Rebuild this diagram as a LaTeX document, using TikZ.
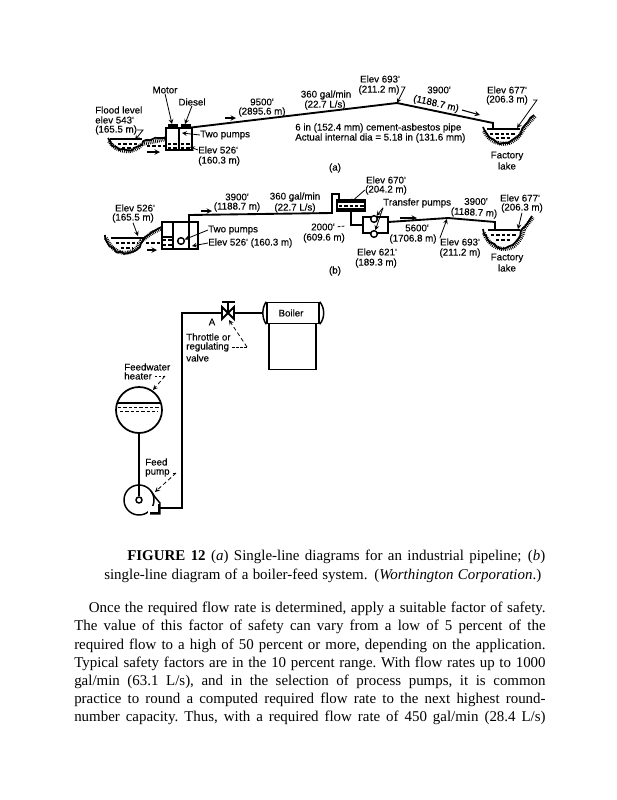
\documentclass[tikz,border=0pt]{standalone}
\usepackage{fontspec}
\setmainfont{Liberation Serif}
\newfontfamily\figfont[FakeBold=0.2]{Liberation Sans}
\usetikzlibrary{decorations.pathmorphing}
\begin{document}
\begin{tikzpicture}[
  x=0.75pt, y=-0.75pt,
  lbl/.style={inner sep=0pt, font=\figfont\fontsize{7.3pt}{8pt}\selectfont},
  lblw/.style={lbl, anchor=west},
  pipe/.style={line width=1.4pt},
  fatpipe/.style={line width=2.2pt},
  box/.style={line width=1.1pt},
  lead/.style={->, >=stealth, line width=0.6pt},
  flowarr/.style={->, >=stealth, line width=0.8pt},
  dashlead/.style={line width=0.6pt, dash pattern=on 2pt off 1pt, shorten <=2pt},
  waterline/.style={line width=2pt},
  ripple/.style={line width=1pt, dash pattern=on 2.5pt off 1.5pt},
  soil/.style={line width=1.3pt, decorate, decoration={random steps, segment length=3pt, amplitude=0.8pt}},
  hatch/.style={line width=3pt, dash pattern=on 0.6pt off 0.8pt},
  captxt/.style={inner sep=0pt, font=\fontsize{11.2pt}{13.6pt}\selectfont},
]
\useasboundingbox (0,0) rectangle (617,800);

% (a) pipeline: pump house
\coordinate (astart) at (187,128);
\coordinate (apeak)  at (397,103);
\coordinate (aend)   at (493,123);
\coordinate (aoutfl) at (493,128);
\node[draw, box, minimum width=19.5pt, minimum height=16.5pt, inner sep=0pt] (ahouse) at (179,139) {};
\draw[box] (179,128) -- (179,150);
\draw[fill=black] (168,124) rectangle (177,128);
\draw[fill=black] (181,124) rectangle (190,128);
\draw[ripple, line width=1.6pt] (168,144) -- (178,144);
\draw[ripple, line width=1.6pt] (168,148) -- (178,148);
\draw[ripple, line width=1.6pt] (181,144) -- (191,144);
\draw[ripple, line width=1.6pt] (181,148) -- (191,148);
\draw[pipe] (astart) -- (apeak) -- (aend) -- (aoutfl);

% (a) flood lake
\draw[soil] (108,138) .. controls (114,152) and (136,154) .. (143,141) -- (166,137);
\draw[hatch] (109,141) .. controls (116,153) and (134,155) .. (142,144) -- (166,139);
\draw[waterline] (110,139) -- (142,139);
\draw[ripple] (118,144) -- (138,144);
\draw[ripple] (122,148) -- (134,148);
\draw[ripple] (147,146) -- (166,146);
\coordinate (aflowa) at (147,152);
\coordinate (aflowb) at (160,152);
\draw[flowarr] (aflowa) -- (aflowb);

% (a) factory lake
\draw[soil] (483,127) .. controls (490,146) and (514,150) .. (522,128) -- (534,115);
\draw[hatch] (484,131) .. controls (492,147) and (514,150) .. (524,128) -- (535,116);
\draw[waterline] (487,129) -- (520,129);
\draw[ripple] (490,134) -- (516,134);
\draw[ripple] (496,138) -- (510,138);

% (a) labels
\node[lbl] (motor) at (165,90) {Motor};
\node[lbl] (diesel) at (192,102) {Diesel};
\node[lblw] (flooda) at (95,110) {Flood level};
\node[lblw] (floodb) at (95,120) {elev 543'};
\node[lblw] (floodc) at (95,130) {(165.5 m)};
\node[lblw] (twoa) at (200,135) {Two pumps};
\node[lblw] (elvaa) at (198,150) {Elev 526'};
\node[lblw] (elvab) at (198,161) {(160.3 m)};
\node[lbl] (lena) at (262,102) {9500'};
\node[lbl] (lenb) at (262,112) {(2895.6 m)};
\node[lbl] (rata) at (326,95) {360 gal/min};
\node[lbl] (ratb) at (325,105) {(22.7 L/s)};
\node[lbl] (topa) at (380,79) {Elev 693'};
\node[lbl] (topb) at (379,90) {(211.2 m)};
\node[lbl] (dwna) at (439,90) {3900'};
\node[lbl, rotate=-13] (dwnb) at (436,104) {(1188.7 m)};
\node[lbl] (endela) at (507,90) {Elev 677'};
\node[lbl] (endelb) at (507,100) {(206.3 m)};
\node[lblw] (pipea) at (295,128) {6 in (152.4 mm) cement-asbestos pipe};
\node[lblw] (pipeb) at (295,138) {Actual internal dia = 5.18 in (131.6 mm)};
\node[lbl] (facta) at (507,156) {Factory};
\node[lbl] (factb) at (507,166) {lake};
\node[lbl] (capa) at (335,168) {(a)};

% (a) leaders
\coordinate (hkflood) at (137,130);
\coordinate (hktop) at (401,87);
\coordinate (hkend) at (533,100);
\draw[lead] (motor.south) -- (172,124);
\draw[lead] (diesel.south) -- (185,124);
\draw[lead] (hkflood) -- (143,130) -- (135,140);
\draw[lead] (twoa.west) -- (182,133);
\draw[lead] (elvaa.west) -- (190,147);
\draw[lead] (hktop) -- (405,87) -- (397,103);
\draw[lead] (hkend) -- (537,100) -- (517,128);
\coordinate (aflowc) at (225,118);
\coordinate (aflowd) at (236,118);
\coordinate (aflowe) at (462,110);
\coordinate (aflowf) at (480,115);
\draw[flowarr] (aflowc) -- (aflowd);
\draw[flowarr] (aflowe) -- (aflowf);

% (b) pump house and first lift
\node[draw, box, minimum width=27pt, minimum height=20pt, inner sep=0pt] (bhouse) at (180,235.5) {};
\draw[box] (173,222) -- (173,249);
\draw[box] (162,237) -- (173,237);
\draw[ripple, line width=1.6pt] (163,240) -- (172,240);
\draw[ripple, line width=1.6pt] (163,245) -- (172,245);
\node[draw, circle, box, inner sep=0pt, minimum size=5pt, fill=white] (bpump) at (181,241) {};
\coordinate (bup) at (189,215);
\coordinate (brise) at (332,213);
\coordinate (briseb) at (332,194);
\coordinate (brisec) at (339,194);
\coordinate (brised) at (339,201);
\draw[pipe] (189,249) -- (bup) -- (brise) -- (briseb) -- (brisec) -- (brised);

% (b) tank and transfer pumps
\node[draw, box, minimum width=21pt, minimum height=8pt, inner sep=0pt] (btank) at (351,205.5) {};
\draw[waterline] (337,202) -- (365,202);
\draw[ripple, line width=1.6pt] (339,206) -- (364,206);
\draw[box] (337,209) -- (365,209);
\node[draw, box, minimum width=19pt, minimum height=12pt, inner sep=0pt] (bxfer) at (375.5,225) {};
\node[draw, circle, box, inner sep=0pt, minimum size=5pt, fill=white] (bxpa) at (374,219) {};
\node[draw, circle, box, inner sep=0pt, minimum size=5pt, fill=white] (bxpb) at (374,234) {};
\coordinate (bdrop) at (351,225);
\coordinate (blongst) at (388,222);
\coordinate (blonga) at (448,218);
\coordinate (blongb) at (495,222);
\coordinate (blongc) at (495,229);
\draw[pipe] (btank.south) -- (bdrop) -- (bxfer.west);
\draw[pipe] (blongst) -- (blonga) -- (blongb) -- (blongc);

% (b) lakes
\draw[soil] (105,235) .. controls (112,258) and (136,258) .. (143,240) -- (152,232) -- (162,227);
\draw[hatch] (106,238) .. controls (114,257) and (134,258) .. (141,241) -- (152,233) -- (162,228);
\draw[waterline] (111,238) -- (145,238);
\draw[ripple] (116,243) -- (138,243);
\draw[ripple] (121,248) -- (133,248);
\draw[ripple] (146,243) -- (162,243);
\draw[soil] (483,229) .. controls (490,252) and (516,256) .. (522,229) -- (532,216);
\draw[hatch] (484,233) .. controls (492,254) and (518,256) .. (524,229) -- (533,217);
\draw[waterline] (488,230) -- (520,230);
\draw[ripple] (491,235) -- (516,235);
\draw[ripple] (496,240) -- (510,240);

% (b) labels
\node[lbl] (eleva) at (135,208) {Elev 526'};
\node[lbl] (elevb) at (133,218) {(165.5 m)};
\node[lbl] (bdista) at (237,197) {3900'};
\node[lbl] (bdistb) at (237,207) {(1188.7 m)};
\node[lbl] (brata) at (295,197) {360 gal/min};
\node[lbl] (bratb) at (295,208) {(22.7 L/s)};
\node[lblw] (btwo) at (208,230) {Two pumps};
\node[lblw] (bbase) at (208,243) {Elev 526' (160.3 m)};
\node[lbl] (bmida) at (323,227) {2000'};
\node[lbl] (bmidb) at (324,238) {(609.6 m)};
\node[lbl] (btanka) at (386,180) {Elev 670'};
\node[lbl] (btankb) at (386,190) {(204.2 m)};
\node[lblw] (bxlbl) at (383,203) {Transfer pumps};
\node[lbl] (bsegt) at (476,201.5) {3900'};
\node[lbl, rotate=-3] (bsegb) at (474,213) {(1188.7 m)};
\node[lbl] (bfara) at (520,198) {Elev 677'};
\node[lbl] (bfarb) at (522,208) {(206.3 m)};
\node[lbl] (blena) at (417,228) {5600'};
\node[lbl] (blenb) at (413,239) {(1706.8 m)};
\node[lbl] (bhia) at (460,242) {Elev 693'};
\node[lbl] (bhib) at (460,253) {(211.2 m)};
\node[lbl] (blowa) at (377,252) {Elev 621'};
\node[lbl] (blowb) at (376,263) {(189.3 m)};
\node[lbl] (bfacta) at (507,258) {Factory};
\node[lbl] (bfactb) at (507,268) {lake};
\node[lbl] (capb) at (335,271) {(b)};

% (b) leaders
\coordinate (bflowa) at (201,211);
\coordinate (bflowb) at (212,211);
\coordinate (bflowc) at (400,218);
\coordinate (bflowd) at (417,218);
\coordinate (bflowe) at (147,250);
\coordinate (bflowf) at (157,250);
\coordinate (bmidtip) at (345,226);
\coordinate (bpeak) at (447,219);
\coordinate (bfarin) at (518,229);
\draw[flowarr] (bflowa) -- (bflowb);
\draw[flowarr] (bflowc) -- (bflowd);
\draw[flowarr] (bflowe) -- (bflowf);
\draw[lead] (elevb.south) -- (138,236);
\draw[lead] (btwo.west) -- (bpump);
\draw[lead] (bbase.west) -- (192,246);
\draw[dashlead] (bmida.east) -- (bmidtip);
\draw[lead] (btankb.west) -- (350,203);
\draw[lead] (bxlbl.south west) -- (bxpa);
\draw[lead] (bxlbl.south west) -- (bxpb);
\draw[lead] (bhia.north west) -- (bpeak);
\draw[lead] (bfarb.south) -- (bfarin);

% boiler feed system
\node[draw, box, line width=1.3pt, circle, inner sep=0pt, minimum size=34.5pt] (heater) at (139,410) {};
\draw[waterline, line width=2.2pt] (117,403) -- (161,403);
\draw[ripple, line width=0.7pt] (118,407) -- (160,407);
\draw[ripple, line width=0.7pt] (120,411) -- (158,411);
\node[draw, box, circle, inner sep=0pt, minimum size=22.5pt] (fpump) at (139,500) {};
\coordinate (foutb) at (160,508);
\coordinate (fcorn) at (182,508);
\coordinate (ftop) at (182,313);
\draw[box] (151,491) -- (155,497) -- (160,503) -- (160,514) -- (150,514);
\fill[white] (148,506) rectangle (159,513);
\draw[box] (159,504) -- (159,513) -- (150,513);
\node[draw, box, circle, inner sep=0pt, minimum size=4.5pt, fill=white] (feye) at (139,500) {};
\draw[fatpipe] (heater.south) -- (feye.north);
\draw[fatpipe] (foutb) -- (fcorn) -- (ftop) -- (222,313);
\coordinate (valve) at (228,313);
\draw[box, line width=1.4pt] (222,307) -- (234,319) -- (234,307) -- (222,319) -- cycle;
\draw[box, line width=1.4pt] (valve) -- (228,302);
\draw[box, line width=1.6pt] (222,302) -- (235,302);
\node[draw, box, minimum width=39pt, minimum height=15.75pt, inner sep=0pt] (boiler) at (293,313) {};
\draw[box] (boiler.north west) .. controls (261.7,308) and (261.7,318) .. (boiler.south west);
\draw[box] (boiler.north east) .. controls (325,308) and (325,318) .. (boiler.south east);
\node[draw, box, anchor=north, minimum width=35pt, minimum height=34.5pt, inner sep=0pt] (furnace) at (292.5,323) {};
\coordinate (bleft) at (263,313);
\draw[fatpipe] (234,313) -- (bleft);

% boiler feed labels
\node[lbl] (boilerlbl) at (291,313) {Boiler};
\node[lbl] (alabel) at (212,322) {A};
\node[lblw] (thra) at (186,337) {Throttle or};
\node[lblw] (thrb) at (186,347) {regulating};
\node[lblw] (thrc) at (186,358) {valve};
\node[lblw] (fwa) at (124,367) {Feedwater};
\node[lblw] (fwb) at (124,376) {heater};
\node[lblw] (fpa) at (145,462) {Feed};
\node[lblw] (fpb) at (145,473) {pump};

% boiler feed leaders
\coordinate (vbend) at (247,347);
\coordinate (hbend) at (165,376);
\coordinate (pbend) at (176,473);
\draw[dashlead] (thrb.east) -- (vbend);
\draw[lead, densely dashed] (vbend) -- (229,320);
\draw[dashlead] (fwb.east) -- (hbend);
\draw[lead, densely dashed] (hbend) -- (153,390);
\draw[dashlead] (fpb.east) -- (pbend);
\draw[lead, densely dashed] (pbend) -- (155,492);

% caption and running text
\node[captxt, anchor=base west] (capline) at (127,560) {\makebox[313.5pt][s]{\textbf{FIGURE 12} (\textit{a}) Single-line diagrams for an industrial pipeline; (\textit{b})}};
\node[captxt, anchor=base west] (caplinb) at (104,579) {\makebox[327.75pt][s]{single-line diagram of a boiler-feed system. (\textit{Worthington Corporation}.)}};
\node[captxt, anchor=north west, text width=353.5pt, align=justify] (bodytxt) at (74,602) {\frenchspacing\hspace*{11pt}Once the required flow rate is determined, apply a suitable factor of safety.\linebreak
The value of this factor of safety can vary from a low of 5 percent of the\linebreak
required flow to a high of 50 percent or more, depending on the application.\linebreak
Typical safety factors are in the 10 percent range. With flow rates up to 1000\linebreak
gal/min (63.1 L/s), and in the selection of process pumps, it is common\linebreak
practice to round a computed required flow rate to the next highest round-\linebreak
number capacity. Thus, with a required flow rate of 450 gal/min (28.4 L/s)\parfillskip=0pt\par};
\end{tikzpicture}
\end{document}
